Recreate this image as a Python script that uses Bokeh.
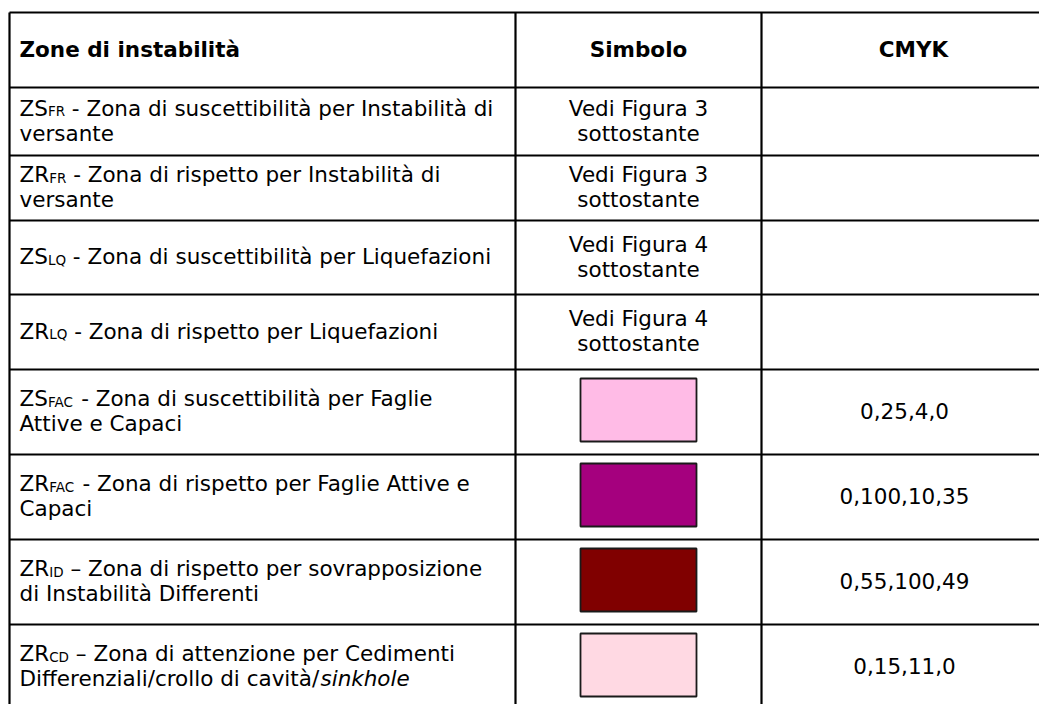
from bokeh.plotting import figure
from bokeh.models import Range1d, ColumnDataSource
from bokeh.core.properties import value
from bokeh.embed import file_html
from bokeh.resources import INLINE

# ---------------- data ----------------
headers = ["Zone di instabilità", "Simbolo", "CMYK"]
zone_prefix = ["ZS", "ZR", "ZS", "ZR", "ZS", "ZR", "ZR", "ZR"]
zone_sub = ["FR", "FR", "LQ", "LQ", "FAC", "FAC", "ID", "CD"]
zone_line1 = [
    "- Zona di suscettibilità per Instabilità di",
    "- Zona di rispetto per Instabilità di",
    "- Zona di suscettibilità per Liquefazioni",
    "- Zona di rispetto per Liquefazioni",
    "- Zona di suscettibilità per Faglie",
    "- Zona di rispetto per Faglie Attive e",
    "– Zona di rispetto per sovrapposizione",
    "– Zona di attenzione per Cedimenti",
]
zone_line2 = ["versante", "versante", "", "", "Attive e Capaci", "Capaci",
              "di Instabilità Differenti", "Differenziali/crollo di cavità/"]
zone_line2_italic = ["", "", "", "", "", "", "", "sinkhole"]
simbolo_line1 = ["Vedi Figura 3", "Vedi Figura 3", "Vedi Figura 4", "Vedi Figura 4", "", "", "", ""]
simbolo_line2 = ["sottostante", "sottostante", "sottostante", "sottostante", "", "", "", ""]
swatch_colors = [None, None, None, None, "#FFBBE6", "#A5007E", "#800000", "#FFD9E3"]
cmyk_values = ["", "", "", "", "0,25,4,0", "0,100,10,35", "0,55,100,49", "0,15,11,0"]

# ---------------- layout (page pixel coordinates) ----------------
W, H = 1039, 704
row_edges = [12, 87, 155, 220, 294, 369, 454, 539, 624, 709]
col_edges = [9, 515, 761, 1047]
header_x = [19, 638, 913]
cmyk_x = 904
FS = 21.5
SUB_FS = 13.5
LS = 25
CAP = 0.729 * FS
DY = -8.5
FONT = "DejaVu Sans"

ADV = {' ': 651, ',': 651, '-': 739, '.': 651, '/': 690, '–': 1024,
       'A': 1401, 'B': 1405, 'C': 1430, 'D': 1577, 'E': 1294, 'F': 1178, 'G': 1587,
       'H': 1540, 'I': 604, 'L': 1141, 'Q': 1612, 'R': 1423, 'S': 1300, 'Z': 1403,
       'a': 1255, 'b': 1300, 'c': 1126, 'd': 1300, 'e': 1260, 'f': 721, 'g': 1300,
       'h': 1298, 'i': 569, 'k': 1186, 'l': 569, 'm': 1995, 'n': 1298, 'o': 1253,
       'p': 1300, 'q': 1300, 'r': 842, 's': 1067, 't': 803, 'u': 1298, 'v': 1212,
       'z': 1075, 'à': 1255}


def text_width(s, size):
    return sum(ADV.get(ch, 1250) for ch in s) / 2048.0 * size


p = figure(width=W, height=H, x_range=Range1d(0, W), y_range=Range1d(H, 0),
           output_backend="svg", toolbar_location=None, tools="", min_border=0,
           x_axis_location=None, y_axis_location=None)
p.grid.visible = False
p.outline_line_color = None
p.background_fill_color = "white"
p.border_fill_color = "white"

# grid lines
h = ColumnDataSource(dict(x0=[col_edges[0]] * len(row_edges), x1=[col_edges[-1]] * len(row_edges),
                          y0=row_edges, y1=row_edges))
p.segment(x0="x0", y0="y0", x1="x1", y1="y1", source=h, line_color="black", line_width=2.2)
v = ColumnDataSource(dict(x0=col_edges, x1=col_edges, y0=[row_edges[0]] * len(col_edges),
                          y1=[row_edges[-1]] * len(col_edges)))
p.segment(x0="x0", y0="y0", x1="x1", y1="y1", source=v, line_color="black", line_width=2.2)

common = dict(text_font=value(FONT), text_baseline="alphabetic", text_color="#000000")

# headers
hb = (row_edges[0] + row_edges[1]) / 2 + CAP / 2 + DY
p.text(x=header_x, y=[hb] * 3, text=headers, text_align=["left", "center", "center"],
       text_font_size=value(f"{FS}px"), text_font_style="bold", **common)

px, py, pt = [], [], []
sx, sy, st = [], [], []
rx, ry, rt = [], [], []
l2x, l2y, l2t = [], [], []
ix, iy, it = [], [], []
mx, my, mt = [], [], []
cx, cy, ct = [], [], []
left_x = 19
for i in range(8):
    top, bot = row_edges[i + 1], row_edges[i + 2]
    c = (top + bot) / 2
    two = zone_line2[i] != ""
    b1 = (c - (LS - CAP) / 2 if two else c + CAP / 2) + DY
    px.append(left_x); py.append(b1); pt.append(zone_prefix[i])
    xs = left_x + text_width(zone_prefix[i], FS)
    sx.append(xs); sy.append(b1 + 3); st.append(zone_sub[i])
    xr = xs + text_width(zone_sub[i], SUB_FS) + text_width(" ", FS)
    rx.append(xr); ry.append(b1); rt.append(zone_line1[i])
    if two:
        l2x.append(left_x); l2y.append(b1 + LS); l2t.append(zone_line2[i])
        if zone_line2_italic[i]:
            ix.append(left_x + text_width(zone_line2[i], FS)); iy.append(b1 + LS)
            it.append(zone_line2_italic[i])
    if simbolo_line1[i]:
        mb = c - (LS - CAP) / 2 + DY
        mx += [header_x[1], header_x[1]]; my += [mb, mb + LS]
        mt += [simbolo_line1[i], simbolo_line2[i]]
    if cmyk_values[i]:
        cx.append(cmyk_x); cy.append(c + CAP / 2 + DY); ct.append(cmyk_values[i])

p.text(x=px, y=py, text=pt, text_align="left", text_font_size=value(f"{FS}px"), **common)
p.text(x=sx, y=sy, text=st, text_align="left", text_font_size=value(f"{SUB_FS}px"), **common)
p.text(x=rx, y=ry, text=rt, text_align="left", text_font_size=value(f"{FS}px"), **common)
p.text(x=l2x, y=l2y, text=l2t, text_align="left", text_font_size=value(f"{FS}px"), **common)
p.text(x=ix, y=iy, text=it, text_align="left", text_font_size=value(f"{FS}px"),
       text_font_style="italic", **common)
p.text(x=mx, y=my, text=mt, text_align="center", text_font_size=value(f"{FS}px"), **common)
p.text(x=cx, y=cy, text=ct, text_align="center", text_font_size=value(f"{FS}px"), **common)

# swatches
sw_l, sw_r, sw_t, sw_b, sw_c = [], [], [], [], []
for i, col in enumerate(swatch_colors):
    if col is None:
        continue
    top = row_edges[i + 1]
    sw_l.append(header_x[1] - 58); sw_r.append(header_x[1] + 58)
    sw_t.append(top + 9); sw_b.append(top + 72); sw_c.append(col)
p.quad(left=sw_l, right=sw_r, top=sw_t, bottom=sw_b, fill_color=sw_c,
       line_color="#1a1a1a", line_width=1.8)

open("out.html", "w").write(file_html(p, INLINE))
